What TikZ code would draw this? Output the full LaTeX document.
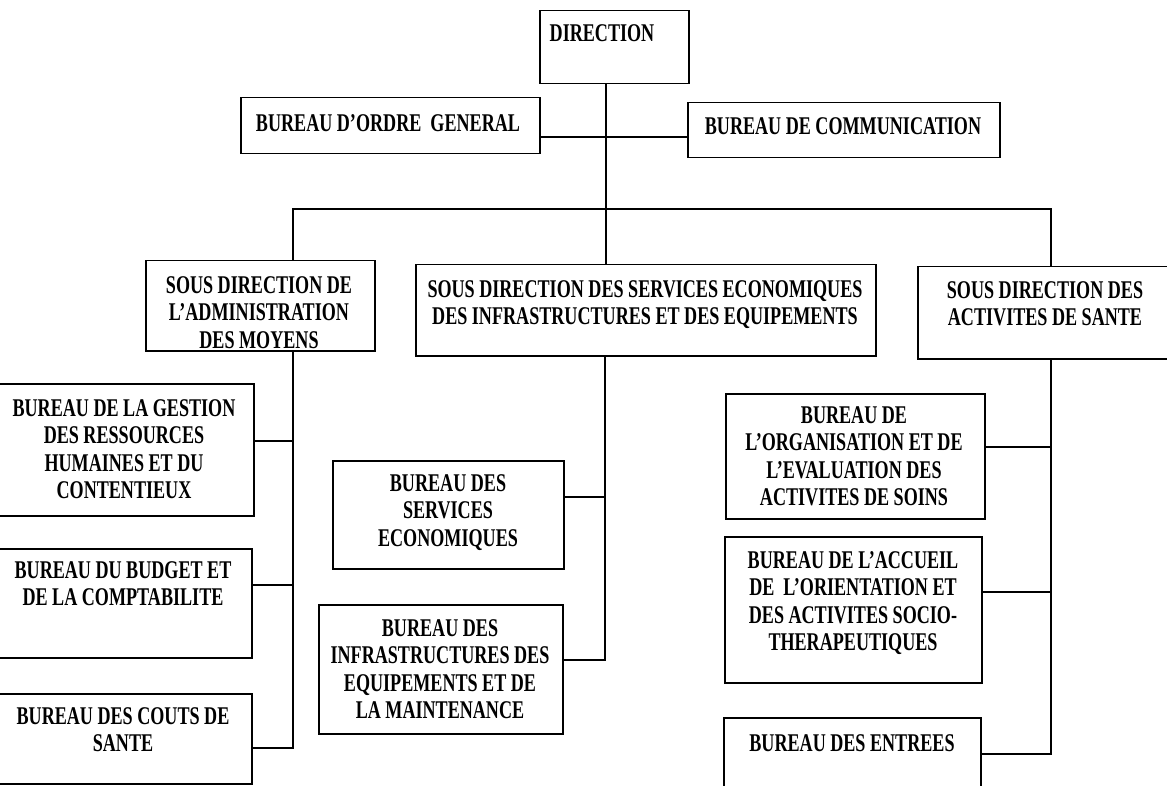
\documentclass[tikz,border=0pt]{standalone}
\usepackage{fontspec}
\setmainfont{Liberation Serif}[FakeStretch=0.71]
\begin{document}
\begin{tikzpicture}[x=1pt,y=-1pt,
  box/.style={draw,line width=1.5pt,inner sep=0pt,anchor=north west},
  txt/.style={font=\fontsize{25.5}{27.5}\selectfont\bfseries,align=center,inner sep=0pt,anchor=north},
  wire/.style={line width=1.3pt}]
\useasboundingbox (0,0) rectangle (1167,786);
\clip (0,0) rectangle (1167,786);
\fill[white] (0,0) rectangle (1167,786);

% frames of the units
\node[box,minimum width=149pt,minimum height=73pt] (dir) at (539,10) {};
\node[box,minimum width=299pt,minimum height=56pt] (bog) at (240,97) {};
\node[box,minimum width=312pt,minimum height=55pt] (bdc) at (687,102) {};
\node[box,minimum width=229pt,minimum height=90pt] (sd1) at (145,260) {};
\node[box,minimum width=460pt,minimum height=91pt] (sd2) at (415,264) {};
\node[box,minimum width=263pt,minimum height=92pt] (sd3) at (917,266) {};
\node[box,minimum width=263pt,minimum height=132pt] (b1) at (-10,383) {};
\node[box,minimum width=261pt,minimum height=109pt] (b2) at (-10,548) {};
\node[box,minimum width=261pt,minimum height=90pt] (b3) at (-10,693) {};
\node[box,minimum width=231pt,minimum height=108pt] (bse) at (332,460) {};
\node[box,minimum width=244pt,minimum height=129pt] (bie) at (318,604) {};
\node[box,minimum width=259pt,minimum height=125pt] (boe) at (725,393) {};
\node[box,minimum width=257pt,minimum height=146pt] (bao) at (724,536) {};
\node[box,minimum width=257pt,minimum height=90pt] (bde) at (723,717) {};

% labels
\node[txt] (dir-t) at (602,24) {DIRECTION};
\node[txt] (bog-t) at (388,114) {BUREAU D’ORDRE\ \ GENERAL};
\node[txt] (bdc-t) at (843,117) {BUREAU DE COMMUNICATION};
\node[txt] (sd1-t) at (259,276) {SOUS DIRECTION DE\\L’ADMINISTRATION\\DES MOYENS};
\node[txt] (sd2-t) at (645,280) {SOUS DIRECTION DES SERVICES ECONOMIQUES\\DES INFRASTRUCTURES ET DES EQUIPEMENTS};
\node[txt] (sd3-t) at (1045,281) {SOUS DIRECTION DES\\ACTIVITES DE SANTE};
\node[txt] (b1-t) at (124,399) {BUREAU DE LA GESTION\\DES RESSOURCES\\HUMAINES ET DU\\CONTENTIEUX};
\node[txt] (b2-t) at (123,561) {BUREAU DU BUDGET ET\\DE LA COMPTABILITE};
\node[txt] (b3-t) at (123,707) {BUREAU DES COUTS DE\\SANTE};
\node[txt] (bse-t) at (448,474) {BUREAU DES\\SERVICES\\ECONOMIQUES};
\node[txt] (bie-t) at (440,619) {BUREAU DES\\INFRASTRUCTURES DES\\EQUIPEMENTS ET DE\\LA MAINTENANCE};
\node[txt] (boe-t) at (854,406) {BUREAU DE\\L’ORGANISATION ET DE\\L’EVALUATION DES\\ACTIVITES DE SOINS};
\node[txt] (bao-t) at (853,551) {BUREAU DE L’ACCUEIL\\DE\ \ L’ORIENTATION ET\\DES ACTIVITES SOCIO-\\THERAPEUTIQUES};
\node[txt] (bde-t) at (852,734) {BUREAU DES ENTREES};

% junction points of the tree
\coordinate (jtop) at (606,137);
\coordinate (jmid) at (606,209);
\coordinate (jl) at (293,209);
\coordinate (jr) at (1051,209);
\coordinate (c-b1) at (293,441);
\coordinate (c-b2) at (293,585);
\coordinate (c-b3) at (293,748);
\coordinate (c-bse) at (605,497);
\coordinate (c-bie) at (605,660);
\coordinate (c-boe) at (1051,447);
\coordinate (c-bao) at (1051,592);
\coordinate (c-bde) at (1051,754);

% links
\draw[wire] (jtop |- dir.south) -- (jmid) -- (jmid |- sd2.north);
\draw[wire] (jtop -| bog.east) -- (jtop) -- (jtop -| bdc.west);
\draw[wire] (jl |- sd1.north) -- (jl) -- (jr) -- (jr |- sd3.north);

\draw[wire] (c-b1 |- sd1.south) -- (c-b3) -- (c-b3 -| b3.east);
\draw[wire] (c-b1 -| b1.east) -- (c-b1);
\draw[wire] (c-b2 -| b2.east) -- (c-b2);

\draw[wire] (c-bse |- sd2.south) -- (c-bie) -- (c-bie -| bie.east);
\draw[wire] (c-bse -| bse.east) -- (c-bse);

\draw[wire] (c-boe |- sd3.south) -- (c-bde) -- (c-bde -| bde.east);
\draw[wire] (c-boe -| boe.east) -- (c-boe);
\draw[wire] (c-bao -| bao.east) -- (c-bao);
\end{tikzpicture}
\end{document}
